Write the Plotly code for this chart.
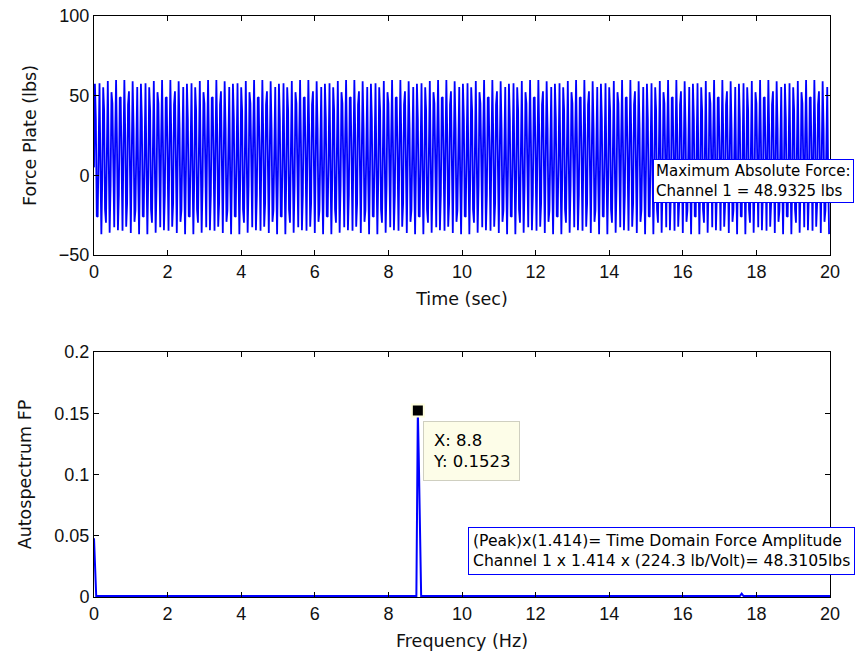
import plotly.graph_objects as go

# ---------------- data ----------------
# Sample rate of the force-plate record (Hz) and one repeating period of the sampled
# waveform (50 samples = 1.25 s), read from the upper panel.
sample_rate_hz = 40
period_samples = [
    5.0, 57.5, 35.2, -25.6, -26.1, 34.5, 57.8, 5.8, -36.9, -1.0,
    55.2, 40.4, -21.4, -29.7, 29.0, 59.2, 11.9, -36.1, -6.7, 52.2,
    45.0, -16.7, -32.5, 23.1, 59.9, 18.0, -34.5, -12.2, 48.6, 49.1,
    -11.5, -34.8, 17.2, 59.9, 24.0, -32.2, -17.4, 44.4, 52.7, -6.0,
    -36.2, 11.1, 59.1, 29.7, -29.2, -22.0, 39.7, 55.5, -0.1, -36.9,
]
n_periods = 16
force_lbs = period_samples * n_periods
time_sec = [i / sample_rate_hz for i in range(len(force_lbs))]

# Autospectrum (lower panel)
freq_hz = [0.0, 0.03, 0.06, 8.76, 8.775, 8.80, 8.825, 8.875, 8.89, 17.55, 17.60, 17.65, 20.0]
autospec = [0.048, 0.0235, 0.0008, 0.0008, 0.077, 0.1523, 0.114, 0.037, 0.0008, 0.0008, 0.0028, 0.0008, 0.0008]

peak_x = [8.8]
peak_y = [0.1523]

x_ticks = [0, 2, 4, 6, 8, 10, 12, 14, 16, 18, 20]
force_ticks = [-50, 0, 50, 100]
spec_ticks = [0, 0.05, 0.1, 0.15, 0.2]
spec_tick_text = ["0", "0.05", "0.1", "0.15", "0.2"]

# ---------------- figure ----------------
W, H = 864, 662
BLUE = "#0000FF"
FONT = "DejaVu Sans"
TICKFONT = "Liberation Sans"


def px(x):
    return x / W


def py(y):
    return 1 - y / H


fig = go.Figure()
fig.add_trace(go.Scatter(x=time_sec, y=force_lbs, mode="lines",
                         line=dict(color=BLUE, width=1.8), xaxis="x", yaxis="y",
                         showlegend=False, hoverinfo="skip"))
fig.add_trace(go.Scatter(x=freq_hz, y=autospec, mode="lines",
                         line=dict(color=BLUE, width=2), xaxis="x2", yaxis="y2",
                         showlegend=False))
fig.add_trace(go.Scatter(x=peak_x, y=peak_y, mode="markers",
                         marker=dict(symbol="square", size=12, color="black",
                                     line=dict(color="#FFFFE0", width=2)),
                         xaxis="x2", yaxis="y2", showlegend=False, cliponaxis=False))

xdom = [px(94), px(830)]
axis_common = dict(showline=True, linecolor="black", linewidth=1, mirror="ticks",
                   ticks="inside", ticklen=5, tickcolor="black", showgrid=False,
                   zeroline=False, automargin=False,
                   tickfont=dict(family=TICKFONT, size=18, color="#111111"))
title_font = dict(family=FONT, size=17.5, color="#111111")

fig.update_layout(
    width=W, height=H,
    margin=dict(l=0, r=0, t=0, b=0),
    paper_bgcolor="white", plot_bgcolor="white",
    xaxis=dict(domain=xdom, anchor="y", range=[0, 20], tickvals=x_ticks,
               title=dict(text="Time (sec)", font=title_font, standoff=12),
               **axis_common),
    yaxis=dict(domain=[py(255), py(16)], anchor="x", range=[-50, 100], tickvals=force_ticks,
               title=dict(text="Force Plate (lbs)", font=title_font, standoff=17),
               **axis_common),
    xaxis2=dict(domain=xdom, anchor="y2", range=[0, 20], tickvals=x_ticks,
                title=dict(text="Frequency (Hz)", font=title_font, standoff=12),
                **axis_common),
    yaxis2=dict(domain=[py(597), py(352)], anchor="x2", range=[0, 0.2], tickvals=spec_ticks,
                ticktext=spec_tick_text,
                title=dict(text="Autospectrum FP", font=title_font, standoff=18),
                **axis_common),
)

fig.add_annotation(xref="paper", yref="paper", x=px(653), y=py(159),
                   xanchor="left", yanchor="top", align="left", showarrow=False,
                   text="Maximum Absolute Force:<br>Channel 1 = 48.9325 lbs",
                   font=dict(family=FONT, size=15, color="black"),
                   bgcolor="white", bordercolor=BLUE, borderwidth=1, borderpad=2)

fig.add_annotation(xref="paper", yref="paper", x=px(468), y=py(527),
                   xanchor="left", yanchor="top", align="left", showarrow=False,
                   text="(Peak)x(1.414)= Time Domain Force Amplitude<br>Channel 1 x 1.414 x (224.3 lb/Volt)= 48.3105lbs",
                   font=dict(family=FONT, size=15.6, color="black"),
                   bgcolor="white", bordercolor=BLUE, borderwidth=1, borderpad=4)

fig.add_annotation(xref="paper", yref="paper", x=px(423), y=py(421),
                   xanchor="left", yanchor="top", align="left", showarrow=False,
                   text="X: 8.8<br>Y: 0.1523",
                   font=dict(family=FONT, size=16.5, color="black"),
                   bgcolor="#FDFDE8", bordercolor="#CFCFC0", borderwidth=1, borderpad=9)

# remove the default 8 px page margin so the figure fills the window
fig.write_html("out.html", config={"displayModeBar": False},
               post_script="document.body.style.margin='0';")
